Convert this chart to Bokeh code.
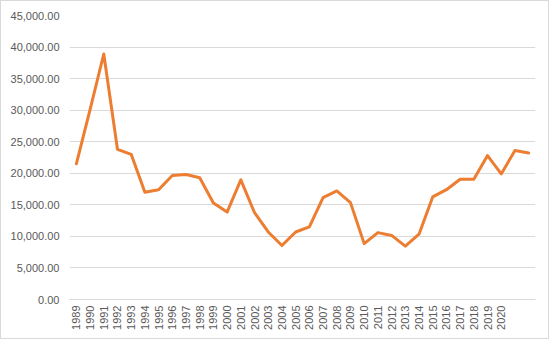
from math import pi
from bokeh.plotting import figure
from bokeh.models import Range1d, FixedTicker, NumeralTickFormatter, ColumnDataSource
from bokeh.embed import file_html
from bokeh.resources import INLINE

years = [str(y) for y in range(1989, 2023)]
values = [21500, 30100, 38900, 23800, 23000, 17000, 17400, 19650, 19800, 19300,
          15300, 13850, 18950, 13750, 10700, 8550, 10700, 11500, 16150, 17200,
          15350, 8850, 10600, 10150, 8450, 10350, 16250, 17400, 19050, 19050,
          22800, 19900, 23600, 23200]
y_ticks = [0, 5000, 10000, 15000, 20000, 25000, 30000, 35000, 40000, 45000]
shown_labels = [str(y) for y in range(1989, 2021)]

idx = list(range(len(years)))
src = ColumnDataSource(dict(x=idx, y=values))

p = figure(x_range=Range1d(-0.5, len(years) - 0.5), y_range=Range1d(0, 45000),
           width=549, height=339, output_backend="svg", toolbar_location=None,
           min_border_left=68, min_border_right=15, min_border_top=14, min_border_bottom=41)
p.styles = {"border": "1px solid #D9D9D9"}
p.outline_line_color = None
p.background_fill_color = "white"

p.line("x", "y", source=src, line_color="#ED7D31", line_width=3, line_join="round", line_cap="round")

p.yaxis.ticker = FixedTicker(ticks=y_ticks)
p.yaxis.formatter = NumeralTickFormatter(format="0,0.00")
p.yaxis.axis_line_color = None
p.yaxis.major_tick_line_color = None
p.yaxis.minor_tick_line_color = None
p.yaxis.major_tick_in = 0
p.yaxis.major_tick_out = 0
p.yaxis.major_label_standoff = 10
p.ygrid.grid_line_color = "#D9D9D9"
p.ygrid.grid_line_width = 1
p.xgrid.grid_line_color = None

label_idx = [years.index(s) for s in shown_labels]
p.xaxis.ticker = FixedTicker(ticks=label_idx)
p.xaxis.major_label_overrides = {i: years[i] for i in label_idx}
p.xaxis.axis_line_color = "#D9D9D9"
p.xaxis.major_tick_line_color = None
p.xaxis.minor_tick_line_color = None
p.xaxis.major_tick_in = 0
p.xaxis.major_tick_out = 0
p.xaxis.major_label_orientation = pi / 2
p.xaxis.major_label_standoff = 6

for ax in (p.xaxis, p.yaxis):
    ax.major_label_text_font = "Liberation Sans"
    ax.major_label_text_font_size = "11px"
    ax.major_label_text_color = "#595959"

open("out.html", "w").write(file_html(p, INLINE))
